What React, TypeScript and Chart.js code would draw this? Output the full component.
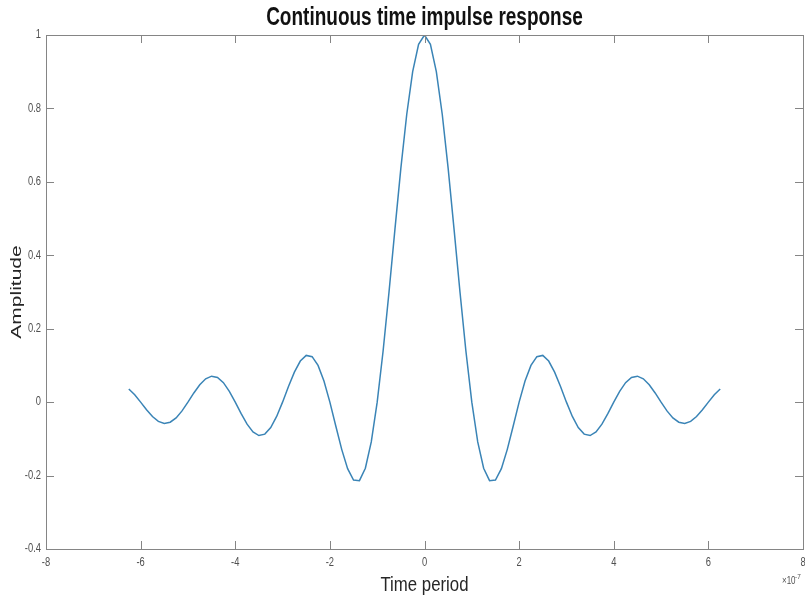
import React, { useEffect, useRef } from "react";
import { Chart, registerables } from "chart.js";

Chart.register(...registerables);

const TITLE = "Continuous time impulse response";
const X_LABEL = "Time period";
const Y_LABEL = "Amplitude";

// time in units of 1e-7 s
const TIME = [
  -6.25, -6.125, -6, -5.875, -5.75, -5.625, -5.5, -5.375, -5.25, -5.125,
  -5, -4.875, -4.75, -4.625, -4.5, -4.375, -4.25, -4.125, -4, -3.875,
  -3.75, -3.625, -3.5, -3.375, -3.25, -3.125, -3, -2.875, -2.75, -2.625,
  -2.5, -2.375, -2.25, -2.125, -2, -1.875, -1.75, -1.625, -1.5, -1.375,
  -1.25, -1.125, -1, -0.875, -0.75, -0.625, -0.5, -0.375, -0.25, -0.125,
  0,
  0.125, 0.25, 0.375, 0.5, 0.625, 0.75, 0.875, 1, 1.125, 1.25,
  1.375, 1.5, 1.625, 1.75, 1.875, 2, 2.125, 2.25, 2.375, 2.5,
  2.625, 2.75, 2.875, 3, 3.125, 3.25, 3.375, 3.5, 3.625, 3.75,
  3.875, 4, 4.125, 4.25, 4.375, 4.5, 4.625, 4.75, 4.875, 5,
  5.125, 5.25, 5.375, 5.5, 5.625, 5.75, 5.875, 6, 6.125, 6.25,
];

const AMPLITUDE = [
  0.036, 0.0199, 0, -0.0207, -0.0391, -0.0523, -0.0579, -0.0547, -0.0429, -0.0238,
  0, 0.025, 0.0474, 0.0636, 0.0707, 0.0672, 0.053, 0.0295, 0, -0.0314,
  -0.06, -0.0811, -0.0909, -0.0871, -0.0693, -0.039, 0, 0.0424, 0.0818, 0.112,
  0.1273, 0.1238, 0.1, 0.0573, 0, -0.065, -0.1286, -0.181, -0.2122, -0.2139,
  -0.1801, -0.1083, 0, 0.1392, 0.3001, 0.4705, 0.6366, 0.7842, 0.9003, 0.9745,
  1,
  0.9745, 0.9003, 0.7842, 0.6366, 0.4705, 0.3001, 0.1392, 0, -0.1083, -0.1801,
  -0.2139, -0.2122, -0.181, -0.1286, -0.065, 0, 0.0573, 0.1, 0.1238, 0.1273,
  0.112, 0.0818, 0.0424, 0, -0.039, -0.0693, -0.0871, -0.0909, -0.0811, -0.06,
  -0.0314, 0, 0.0295, 0.053, 0.0672, 0.0707, 0.0636, 0.0474, 0.025, 0,
  -0.0238, -0.0429, -0.0547, -0.0579, -0.0523, -0.0391, -0.0207, 0, 0.0199, 0.036,
];

const X_TICKS = [-8, -6, -4, -2, 0, 2, 4, 6, 8];
const X_TICK_LABELS = ["-8", "-6", "-4", "-2", "0", "2", "4", "6", "8"];
const Y_TICKS = [-0.4, -0.2, 0, 0.2, 0.4, 0.6, 0.8, 1];
const Y_TICK_LABELS = ["-0.4", "-0.2", "0", "0.2", "0.4", "0.6", "0.8", "1"];
const X_EXPONENT = "-7";

const FONT = '"Liberation Sans", Arial, Helvetica, sans-serif';

function txt(
  ctx: CanvasRenderingContext2D,
  s: string,
  x: number,
  y: number,
  size: number,
  bold: boolean,
  color: string,
  align: CanvasTextAlign,
  baseline: CanvasTextBaseline,
  sx: number,
  rot = false
) {
  ctx.save();
  ctx.translate(x, y);
  if (rot) {
    ctx.rotate(-Math.PI / 2);
    ctx.scale(1, sx);
  } else {
    ctx.scale(sx, 1);
  }
  ctx.font = `${bold ? "bold " : ""}${size}px ${FONT}`;
  ctx.fillStyle = color;
  ctx.textAlign = align;
  ctx.textBaseline = baseline;
  ctx.fillText(s, 0, 0);
  ctx.restore();
}

const decorPlugin = {
  id: "decor",
  beforeDraw(chart: any) {
    const ctx = chart.ctx as CanvasRenderingContext2D;
    ctx.save();
    ctx.fillStyle = "#ffffff";
    ctx.fillRect(0, 0, chart.width, chart.height);
    ctx.restore();
  },
  afterDraw(chart: any) {
    const ctx = chart.ctx as CanvasRenderingContext2D;
    const { left, right, top, bottom } = chart.chartArea;
    const xs = chart.scales.x;
    const ys = chart.scales.y;
    const axisColor = "#858585";
    const tickColor = "#505050";

    ctx.save();
    ctx.strokeStyle = axisColor;
    ctx.lineWidth = 1;
    ctx.strokeRect(Math.round(left) + 0.5, Math.round(top) + 0.5, Math.round(right - left), Math.round(bottom - top));

    const tl = 8;
    ctx.beginPath();
    X_TICKS.forEach((v) => {
      const px = Math.round(xs.getPixelForValue(v)) + 0.5;
      ctx.moveTo(px, bottom);
      ctx.lineTo(px, bottom - tl);
      ctx.moveTo(px, top);
      ctx.lineTo(px, top + tl);
    });
    Y_TICKS.forEach((v) => {
      const py = Math.round(ys.getPixelForValue(v)) + 0.5;
      ctx.moveTo(left, py);
      ctx.lineTo(left + tl, py);
      ctx.moveTo(right, py);
      ctx.lineTo(right - tl, py);
    });
    ctx.stroke();
    ctx.restore();

    X_TICKS.forEach((v, i) => {
      txt(ctx, X_TICK_LABELS[i], xs.getPixelForValue(v), bottom + 14, 12, false, tickColor, "center", "middle", 0.78);
    });
    Y_TICKS.forEach((v, i) => {
      txt(ctx, Y_TICK_LABELS[i], left - 5, ys.getPixelForValue(v), 12, false, tickColor, "right", "middle", 0.78);
    });

    // exponent
    txt(ctx, "\u00d710", right - 21, bottom + 35, 10, false, tickColor, "left", "alphabetic", 0.8);
    txt(ctx, X_EXPONENT, right - 8, bottom + 30, 8, false, tickColor, "left", "alphabetic", 0.8);

    // title & axis labels
    const cx = (left + right) / 2;
    txt(ctx, TITLE, cx, 25, 25, true, "#111111", "center", "alphabetic", 0.76);
    txt(ctx, X_LABEL, cx, 591, 21, false, "#262626", "center", "alphabetic", 0.8);
    txt(ctx, Y_LABEL, 21, 292, 21, false, "#262626", "center", "alphabetic", 0.74, true);
  },
};

export default function App() {
  const ref = useRef<HTMLCanvasElement | null>(null);

  useEffect(() => {
    if (!ref.current) return;
    const points = TIME.map((t, i) => ({ x: t, y: AMPLITUDE[i] }));
    const chart = new Chart(ref.current, {
      type: "line",
      data: {
        datasets: [
          {
            label: "h(t)",
            data: points,
            borderColor: "#3a84b6",
            borderWidth: 1.5,
            pointRadius: 0,
            tension: 0,
            fill: false,
          },
        ],
      },
      options: {
        responsive: false,
        animation: false,
        layout: { padding: { left: 46, top: 35, right: 2, bottom: 49 } },
        plugins: {
          legend: { display: false },
          title: { display: false },
          tooltip: { enabled: false },
        },
        scales: {
          x: { type: "linear", display: false, min: -8, max: 8 },
          y: { type: "linear", display: false, min: -0.4, max: 1 },
        },
      },
      plugins: [decorPlugin],
    });
    return () => chart.destroy();
  }, []);

  return (
    <div style={{ position: "fixed", left: 0, top: 0, width: 805, height: 598, background: "#fff" }}>
      <canvas ref={ref} width={805} height={598} style={{ display: "block" }} />
    </div>
  );
}
